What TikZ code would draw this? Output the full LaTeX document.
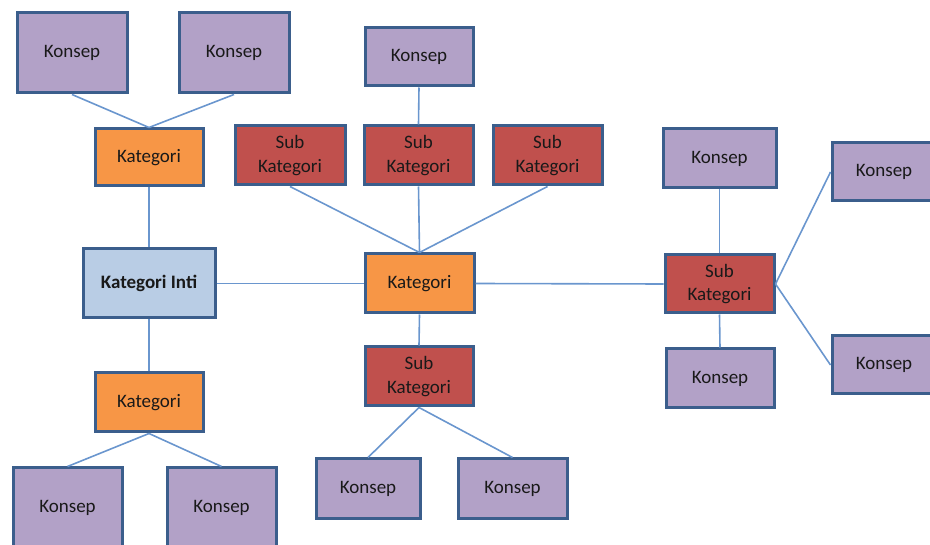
\documentclass[tikz,border=0pt]{standalone}
\usepackage{fontspec}
\setmainfont{Carlito}
\definecolor{konsepfill}{HTML}{B2A1C7}
\definecolor{katfill}{HTML}{F79646}
\definecolor{subfill}{HTML}{C0504D}
\definecolor{intifill}{HTML}{B9CDE5}
\definecolor{boxline}{HTML}{3B5E8C}
\definecolor{conline}{HTML}{6A96CE}
\begin{document}
\begin{tikzpicture}[x=1pt,y=-1pt,
  box/.style={draw=boxline,line width=3pt,inner sep=0pt,align=center,
    font=\fontsize{19}{23.5}\selectfont,text=black!90},
  konsep/.style={box,fill=konsepfill},
  kat/.style={box,fill=katfill},
  subk/.style={box,fill=subfill},
  inti/.style={box,fill=intifill,font=\fontsize{19}{23.5}\selectfont\bfseries},
  con/.style={draw=conline,line width=1.6pt}]
\useasboundingbox (0,0) rectangle (930,545);
% left branch
\node[konsep,minimum width=110pt,minimum height=80pt] (k1) at (72,53) {Konsep};
\node[konsep,minimum width=110pt,minimum height=80pt] (k2) at (234,53) {Konsep};
\node[kat,minimum width=108pt,minimum height=57pt] (kat1) at (149,157.5) {Kategori};
\node[inti,minimum width=132pt,minimum height=69pt] (inti) at (149,283.5) {Kategori Inti};
\node[kat,minimum width=108pt,minimum height=59pt] (kat2) at (149,402.5) {Kategori};
\node[konsep,minimum width=109pt,minimum height=80pt] (k3) at (67.5,508) {Konsep};
\node[konsep,minimum width=109pt,minimum height=80pt] (k4) at (221.5,508) {Konsep};
% middle branch
\node[konsep,minimum width=108pt,minimum height=58pt] (ktop) at (419,57) {Konsep};
\node[subk,minimum width=110pt,minimum height=59pt] (s1) at (290,155.5) {Sub\\Kategori};
\node[subk,minimum width=109pt,minimum height=59pt] (s2) at (418.5,155.5) {Sub\\Kategori};
\node[subk,minimum width=109pt,minimum height=59pt] (s3) at (547.5,155.5) {Sub\\Kategori};
\node[kat,minimum width=109pt,minimum height=59pt] (katc) at (419.5,283.5) {Kategori};
\node[subk,minimum width=108pt,minimum height=59pt] (s4) at (419,376.5) {Sub\\Kategori};
\node[konsep,minimum width=104pt,minimum height=59pt] (k5) at (368,488.5) {Konsep};
\node[konsep,minimum width=109pt,minimum height=59pt] (k6) at (512.5,488.5) {Konsep};
% right branch
\node[subk,minimum width=109pt,minimum height=58pt] (sr) at (719.5,284) {Sub\\Kategori};
\node[konsep,minimum width=113pt,minimum height=59pt] (kr1) at (719.5,158.5) {Konsep};
\node[konsep,minimum width=108pt,minimum height=59pt] (kr2) at (720,378.5) {Konsep};
\node[konsep,minimum width=104pt,minimum height=58pt] (kr3) at (884,172) {Konsep};
\node[konsep,minimum width=104pt,minimum height=58pt] (kr4) at (884,365) {Konsep};
% connectors
\draw[con] (k1.south) -- (kat1.north);
\draw[con] (k2.south) -- (kat1.north);
\draw[con] (kat1.south) -- (inti.north);
\draw[con] (inti.south) -- (kat2.north);
\draw[con] (kat2.south) -- (k3.north);
\draw[con] (kat2.south) -- (k4.north);
\draw[con] (inti.east) -- (katc.west);
\draw[con] (ktop.south) -- (s2.north);
\draw[con] (s1.south) -- (katc.north);
\draw[con] (s2.south) -- (katc.north);
\draw[con] (s3.south) -- (katc.north);
\draw[con] (katc.south) -- (s4.north);
\draw[con] (s4.south) -- (k5.north);
\draw[con] (s4.south) -- (k6.north);
\draw[con] (katc.east) -- (sr.west);
\draw[con] (sr.north) -- (kr1.south);
\draw[con] (sr.south) -- (kr2.north);
\draw[con] (sr.east) -- (kr3.west);
\draw[con] (sr.east) -- (kr4.west);
\end{tikzpicture}
\end{document}
